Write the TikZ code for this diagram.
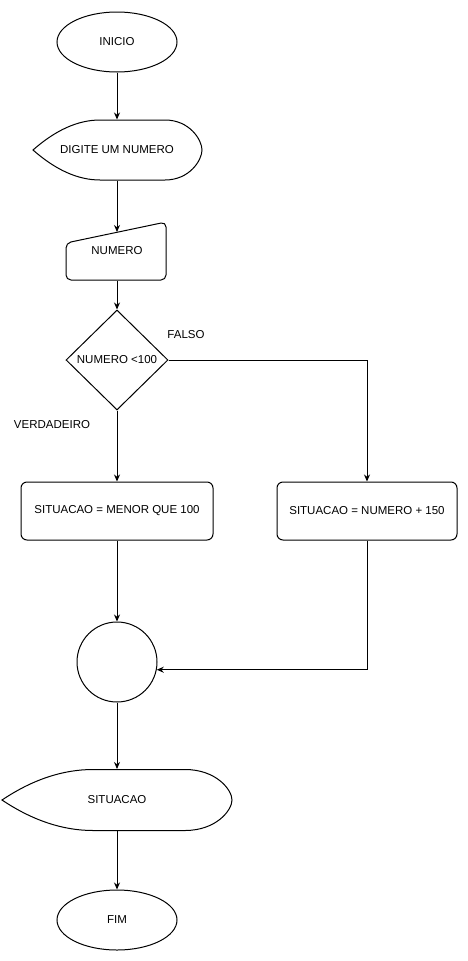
\documentclass[tikz,border=0pt]{standalone}
\usepackage{fontspec}
\setmainfont{Liberation Sans}
\usetikzlibrary{arrows.meta,shapes.geometric}

\begin{document}
\begin{tikzpicture}[x=1pt,y=-1pt,line width=1pt,
  every node/.style={font=\fontsize{11.5}{14}\selectfont},
  seta/.style={-{Stealth[length=7pt,width=6pt]}},
  caixa/.style={draw,rounded corners=6pt,minimum height=58pt}]
\useasboundingbox [fill=white] (0,0) rectangle (467,961);
\node [draw,ellipse,minimum width=120pt,minimum height=60pt] (inicio) at (117,42) {INICIO};
\node [minimum width=169pt,minimum height=60pt,inner sep=0pt] (digite) at (117,150) {DIGITE UM NUMERO};
\draw (33,150) .. controls (55.7,130) and (78,120) .. (100,120) -- (165,120) .. controls (189.7,120) and (202,140) .. (202,150) .. controls (202,160) and (189.7,180) .. (165,180) -- (100,180) .. controls (78,180) and (55.7,170) .. cycle;
\node [minimum width=100pt,minimum height=58pt,inner sep=0pt] (numero) at (117,251) {NUMERO};
\draw [rounded corners=5pt] (66,280) -- (66,243) -- (166,222) -- (166,280) -- cycle;
\coordinate (numtopo) at (117,232);
\node [draw,diamond,inner sep=0pt,minimum width=102pt,minimum height=100pt] (teste) at (117,360) {NUMERO <100};
\node (falso) at (186,335) {FALSO};
\node (verdadeiro) at (52,425) {VERDADEIRO};
\node [caixa,minimum width=192pt] (menor) at (117,511) {SITUACAO = MENOR QUE 100};
\node [caixa,minimum width=180pt] (soma) at (367,511) {SITUACAO = NUMERO + 150};
\node [draw,circle,minimum size=80pt] (juncao) at (117,662) {};
\node [minimum width=230pt,minimum height=61pt,inner sep=0pt] (saida) at (117,800) {SITUACAO};
\draw (2,800) .. controls (32.3,779.7) and (62.7,769.5) .. (93,769.5) -- (185,769.5) .. controls (216.3,769.5) and (232,789.8) .. (232,800) .. controls (232,810.2) and (216.3,830.5) .. (185,830.5) -- (93,830.5) .. controls (62.7,830.5) and (32.3,820.3) .. cycle;
\node [draw,ellipse,minimum width=120pt,minimum height=60pt] (fim) at (117,920) {FIM};
\draw [seta] (inicio.south) -- (digite.north);
\draw [seta] (digite.south) -- (numtopo);
\draw [seta] (numero.south) -- (teste.north);
\draw [seta] (teste.south) -- (menor.north);
\draw [seta] (teste.east) -| (soma.north);
\draw [seta] (menor.south) -- (juncao.north);
\draw [seta] (soma.south) |- (juncao.-11);
\draw [seta] (juncao.south) -- (saida.north);
\draw [seta] (saida.south) -- (fim.north);
\end{tikzpicture}
\end{document}
